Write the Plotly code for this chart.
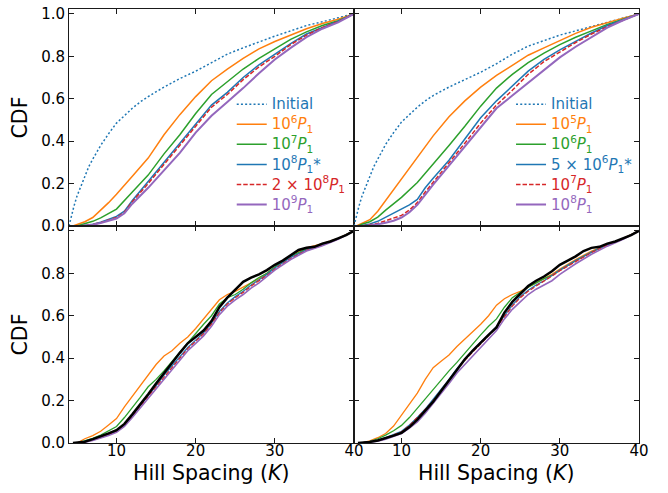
import plotly.graph_objects as go
from plotly.subplots import make_subplots

# ---------------- data ----------------
# Top-left panel
tl_init_x = [4, 4.3, 4.6, 5, 5.5, 6, 6.5, 7, 7.5, 8, 9, 10, 11, 12, 13, 14, 16, 18, 20, 22, 24, 26, 28, 30, 32, 34, 36, 38, 40]
tl_init_y = [0, 0.05, 0.09, 0.14, 0.19, 0.235, 0.28, 0.315, 0.35, 0.38, 0.435, 0.485, 0.52, 0.555, 0.585, 0.61, 0.655, 0.695, 0.73, 0.77, 0.81, 0.84, 0.868, 0.895, 0.92, 0.945, 0.963, 0.98, 1.0]
tl_or_x = [4.5, 6, 7, 8, 9, 10, 11, 12, 14, 16, 18, 20, 22, 24, 26, 28, 30, 32, 34, 36, 38, 40]
tl_or_y = [0, 0.02, 0.04, 0.075, 0.11, 0.15, 0.195, 0.235, 0.32, 0.43, 0.525, 0.61, 0.685, 0.74, 0.79, 0.835, 0.87, 0.9, 0.93, 0.955, 0.975, 1.0]
tl_gr_x = [5, 6, 7, 8, 10, 12, 14, 16, 18, 20, 22, 24, 26, 28, 30, 32, 34, 36, 38, 40]
tl_gr_y = [0, 0.01, 0.022, 0.038, 0.08, 0.16, 0.24, 0.34, 0.43, 0.53, 0.62, 0.68, 0.74, 0.79, 0.835, 0.88, 0.915, 0.945, 0.968, 1.0]
tl_grid_x = [5.5, 7, 8, 9, 10, 11, 12, 14, 16, 18, 20, 22, 24, 26, 28, 30, 32, 34, 36, 38, 40]
tl_bl_y = [0, 0.008, 0.018, 0.03, 0.045, 0.07, 0.12, 0.21, 0.30, 0.385, 0.48, 0.57, 0.63, 0.70, 0.76, 0.81, 0.86, 0.905, 0.935, 0.965, 1.0]
tl_rd_y = [0, 0.007, 0.016, 0.027, 0.04, 0.065, 0.115, 0.2, 0.29, 0.375, 0.47, 0.56, 0.62, 0.69, 0.75, 0.80, 0.855, 0.90, 0.935, 0.963, 1.0]
tl_pu_y = [0, 0.006, 0.014, 0.024, 0.035, 0.06, 0.105, 0.18, 0.26, 0.345, 0.44, 0.52, 0.585, 0.65, 0.72, 0.785, 0.84, 0.89, 0.93, 0.96, 1.0]

# Top-right panel
tr_init_x = [4, 4.3, 4.6, 5, 5.5, 6, 6.5, 7, 7.5, 8, 9, 10, 11, 12, 13, 14, 16, 18, 20, 22, 24, 26, 28, 30, 32, 34, 36, 38, 40]
tr_init_y = [0, 0.05, 0.09, 0.14, 0.19, 0.235, 0.28, 0.315, 0.35, 0.385, 0.44, 0.49, 0.525, 0.56, 0.59, 0.615, 0.655, 0.69, 0.725, 0.765, 0.81, 0.848, 0.875, 0.9, 0.92, 0.94, 0.96, 0.98, 1.0]
tr_or_x = [4.3, 5, 6, 7, 8, 9, 10, 12, 14, 16, 18, 20, 22, 24, 26, 28, 30, 32, 34, 36, 38, 40]
tr_or_y = [0, 0.012, 0.03, 0.07, 0.12, 0.17, 0.22, 0.32, 0.425, 0.515, 0.59, 0.655, 0.71, 0.757, 0.805, 0.84, 0.875, 0.908, 0.937, 0.96, 0.98, 1.0]
tr_gr_x = [4.5, 5, 6, 7, 8, 9, 10, 12, 14, 16, 18, 20, 22, 24, 26, 28, 30, 32, 34, 36, 38, 40]
tr_gr_y = [0, 0.008, 0.02, 0.042, 0.075, 0.105, 0.135, 0.205, 0.29, 0.38, 0.47, 0.565, 0.65, 0.715, 0.77, 0.815, 0.855, 0.89, 0.92, 0.95, 0.975, 1.0]
tr_bl_x = [4.8, 6, 7, 8, 9, 10, 11, 12, 13, 14, 16, 18, 20, 22, 24, 26, 28, 30, 32, 34, 36, 38, 40]
tr_bl_y = [0, 0.01, 0.022, 0.042, 0.06, 0.08, 0.1, 0.125, 0.18, 0.225, 0.31, 0.41, 0.51, 0.59, 0.66, 0.73, 0.785, 0.83, 0.87, 0.91, 0.945, 0.972, 1.0]
tr_rd_x = [5, 6, 7, 8, 9, 10, 11, 12, 13, 14, 16, 18, 20, 22, 24, 26, 28, 30, 32, 34, 36, 38, 40]
tr_rd_y = [0, 0.005, 0.012, 0.025, 0.038, 0.05, 0.075, 0.11, 0.16, 0.205, 0.295, 0.39, 0.485, 0.57, 0.64, 0.715, 0.775, 0.82, 0.865, 0.905, 0.94, 0.97, 1.0]
tr_pu_x = [5.5, 6, 7, 8, 9, 10, 11, 12, 13, 14, 16, 18, 20, 22, 24, 26, 28, 30, 32, 34, 36, 38, 40]
tr_pu_y = [0, 0.002, 0.008, 0.015, 0.025, 0.04, 0.065, 0.1, 0.15, 0.195, 0.285, 0.375, 0.47, 0.555, 0.615, 0.675, 0.735, 0.795, 0.845, 0.89, 0.935, 0.97, 1.0]

# Bottom panels (common x grid for coloured series)
b_x = [5, 6, 7, 8, 9, 10, 11, 12, 13, 14, 15, 16, 17, 18, 19, 20, 21, 22, 23, 24, 25, 26, 27, 28, 29, 30, 32, 34, 36, 38, 40]
bl_or_y = [0, 0.02, 0.035, 0.055, 0.085, 0.115, 0.17, 0.22, 0.27, 0.32, 0.37, 0.41, 0.435, 0.47, 0.5, 0.54, 0.585, 0.635, 0.675, 0.7, 0.715, 0.735, 0.755, 0.775, 0.8, 0.83, 0.885, 0.92, 0.94, 0.965, 1.0]
bl_gr_y = [0, 0.01, 0.022, 0.037, 0.057, 0.078, 0.12, 0.165, 0.215, 0.265, 0.3, 0.34, 0.385, 0.43, 0.475, 0.52, 0.56, 0.6, 0.655, 0.685, 0.7, 0.725, 0.755, 0.78, 0.8, 0.83, 0.88, 0.915, 0.935, 0.963, 1.0]
bl_bl_y = [0, 0.006, 0.015, 0.027, 0.04, 0.055, 0.085, 0.13, 0.175, 0.225, 0.27, 0.32, 0.365, 0.41, 0.45, 0.485, 0.52, 0.565, 0.62, 0.66, 0.69, 0.715, 0.745, 0.77, 0.795, 0.825, 0.875, 0.91, 0.935, 0.963, 1.0]
bl_rd_y = [0, 0.005, 0.014, 0.026, 0.038, 0.053, 0.082, 0.125, 0.17, 0.22, 0.265, 0.315, 0.36, 0.405, 0.445, 0.48, 0.515, 0.56, 0.615, 0.655, 0.685, 0.71, 0.74, 0.765, 0.79, 0.82, 0.87, 0.908, 0.933, 0.962, 1.0]
bl_pu_y = [0, 0.004, 0.012, 0.023, 0.035, 0.05, 0.078, 0.12, 0.165, 0.21, 0.255, 0.305, 0.35, 0.395, 0.435, 0.47, 0.505, 0.55, 0.605, 0.645, 0.675, 0.7, 0.73, 0.755, 0.785, 0.815, 0.865, 0.905, 0.93, 0.96, 1.0]
br_or_y = [0, 0.01, 0.025, 0.045, 0.08, 0.13, 0.185, 0.235, 0.3, 0.355, 0.385, 0.415, 0.455, 0.49, 0.525, 0.56, 0.6, 0.65, 0.68, 0.7, 0.715, 0.735, 0.755, 0.775, 0.795, 0.82, 0.865, 0.905, 0.935, 0.965, 1.0]
br_gr_y = [0, 0.008, 0.02, 0.037, 0.058, 0.083, 0.12, 0.165, 0.21, 0.255, 0.3, 0.34, 0.38, 0.425, 0.465, 0.51, 0.55, 0.585, 0.64, 0.685, 0.71, 0.735, 0.755, 0.775, 0.79, 0.815, 0.86, 0.9, 0.935, 0.963, 1.0]
br_bl_y = [0, 0.006, 0.014, 0.025, 0.04, 0.055, 0.085, 0.12, 0.16, 0.205, 0.255, 0.3, 0.35, 0.395, 0.435, 0.475, 0.51, 0.55, 0.6, 0.65, 0.69, 0.72, 0.745, 0.765, 0.79, 0.815, 0.86, 0.9, 0.935, 0.963, 1.0]
br_rd_y = [0, 0.005, 0.013, 0.024, 0.038, 0.052, 0.082, 0.118, 0.158, 0.2, 0.25, 0.295, 0.345, 0.39, 0.43, 0.47, 0.505, 0.545, 0.595, 0.645, 0.685, 0.715, 0.74, 0.762, 0.787, 0.812, 0.857, 0.898, 0.933, 0.962, 1.0]
br_pu_y = [0, 0.003, 0.009, 0.018, 0.03, 0.045, 0.07, 0.1, 0.14, 0.185, 0.235, 0.28, 0.33, 0.37, 0.41, 0.445, 0.49, 0.53, 0.585, 0.63, 0.665, 0.7, 0.725, 0.745, 0.765, 0.795, 0.845, 0.89, 0.928, 0.96, 1.0]

# Observed (black) curves
obs_x = [4.5, 6, 7, 8, 9, 10, 11, 12, 13, 14, 15, 16, 17, 18, 19, 20, 21, 22, 23, 24, 25, 26, 27, 28, 29, 30, 31, 32, 33, 34, 35, 36, 37, 38, 39, 40]
bl_obs_y = [0, 0.006, 0.018, 0.03, 0.045, 0.06, 0.09, 0.135, 0.18, 0.23, 0.28, 0.33, 0.38, 0.425, 0.47, 0.5, 0.53, 0.575, 0.64, 0.685, 0.725, 0.76, 0.78, 0.795, 0.815, 0.84, 0.86, 0.885, 0.91, 0.92, 0.925, 0.94, 0.95, 0.965, 0.98, 1.0]
br_obs_y = [0, 0.005, 0.012, 0.022, 0.035, 0.048, 0.075, 0.11, 0.15, 0.195, 0.245, 0.295, 0.345, 0.395, 0.435, 0.475, 0.51, 0.545, 0.615, 0.665, 0.705, 0.74, 0.765, 0.785, 0.81, 0.84, 0.86, 0.88, 0.905, 0.92, 0.925, 0.94, 0.95, 0.965, 0.98, 1.0]

left_labels = ["Initial", "10<sup>6</sup><i>P</i><sub>1</sub>", "10<sup>7</sup><i>P</i><sub>1</sub>",
               "10<sup>8</sup><i>P</i><sub>1</sub>*", "2 × 10<sup>8</sup><i>P</i><sub>1</sub>",
               "10<sup>9</sup><i>P</i><sub>1</sub>"]
right_labels = ["Initial", "10<sup>5</sup><i>P</i><sub>1</sub>", "10<sup>6</sup><i>P</i><sub>1</sub>",
                "5 × 10<sup>6</sup><i>P</i><sub>1</sub>*", "10<sup>7</sup><i>P</i><sub>1</sub>",
                "10<sup>8</sup><i>P</i><sub>1</sub>"]
x_title = "Hill Spacing (<i>K</i>)"
y_title = "CDF"
x_ticks = [10, 20, 30, 40]
y_ticks = [0, 0.2, 0.4, 0.6, 0.8, 1.0]

# ---------------- styling ----------------
C_BLUE, C_OR, C_GR, C_RD, C_PU = "#1f77b4", "#ff7f0e", "#2ca02c", "#d62728", "#9467bd"
FONT = "DejaVu Sans"
DOT = "2px,2.2px"
DASH = "4.5px,2px"

fig = make_subplots(rows=2, cols=2, horizontal_spacing=0, vertical_spacing=0)


def col(name, c):
    return f'<span style="color:{c};font-size:15px">{name}</span>'


def add(x, y, row, c, color, width=1.5, dash="solid", name=None, legend=None):
    fig.add_trace(go.Scatter(x=x, y=y, mode="lines",
                             line=dict(color=color, width=width, dash=dash),
                             name=col(name, color) if name else None,
                             showlegend=legend is not None,
                             legend=legend if legend else "legend",
                             hoverinfo="skip"), row=row, col=c)


# top-left
add(tl_init_x, tl_init_y, 1, 1, C_BLUE, 1.5, DOT, left_labels[0], "legend")
add(tl_or_x, tl_or_y, 1, 1, C_OR, 1.5, "solid", left_labels[1], "legend")
add(tl_gr_x, tl_gr_y, 1, 1, C_GR, 1.5, "solid", left_labels[2], "legend")
add(tl_grid_x, tl_bl_y, 1, 1, C_BLUE, 1.5, "solid", left_labels[3], "legend")
add(tl_grid_x, tl_rd_y, 1, 1, C_RD, 1.5, DASH, left_labels[4], "legend")
add(tl_grid_x, tl_pu_y, 1, 1, C_PU, 2, "solid", left_labels[5], "legend")
# top-right
add(tr_init_x, tr_init_y, 1, 2, C_BLUE, 1.5, DOT, right_labels[0], "legend2")
add(tr_or_x, tr_or_y, 1, 2, C_OR, 1.5, "solid", right_labels[1], "legend2")
add(tr_gr_x, tr_gr_y, 1, 2, C_GR, 1.5, "solid", right_labels[2], "legend2")
add(tr_bl_x, tr_bl_y, 1, 2, C_BLUE, 1.5, "solid", right_labels[3], "legend2")
add(tr_rd_x, tr_rd_y, 1, 2, C_RD, 1.5, DASH, right_labels[4], "legend2")
add(tr_pu_x, tr_pu_y, 1, 2, C_PU, 2, "solid", right_labels[5], "legend2")
# bottom-left
add(b_x, bl_or_y, 2, 1, C_OR, 1.3)
add(b_x, bl_gr_y, 2, 1, C_GR, 1.3)
add(b_x, bl_bl_y, 2, 1, C_BLUE, 1.3)
add(b_x, bl_rd_y, 2, 1, C_RD, 1.3, DASH)
add(b_x, bl_pu_y, 2, 1, C_PU, 1.6)
add(obs_x, bl_obs_y, 2, 1, "black", 2.5)
# bottom-right
add(b_x, br_or_y, 2, 2, C_OR, 1.3)
add(b_x, br_gr_y, 2, 2, C_GR, 1.3)
add(b_x, br_bl_y, 2, 2, C_BLUE, 1.3)
add(b_x, br_rd_y, 2, 2, C_RD, 1.3, DASH)
add(b_x, br_pu_y, 2, 2, C_PU, 1.6)
add(obs_x, br_obs_y, 2, 2, "black", 2.5)

axis_common = dict(showline=True, linecolor="#1a1a1a", linewidth=1, mirror="ticks",
                   ticks="inside", ticklen=5, tickwidth=1.2, tickcolor="#1a1a1a",
                   showgrid=False, zeroline=False,
                   tickfont=dict(family=FONT, size=15, color="black"))

for r in (1, 2):
    for c in (1, 2):
        fig.update_xaxes(range=[4, 40], tickvals=x_ticks, ticklabelstandoff=-6,
                         showticklabels=(r == 2), row=r, col=c, **axis_common)
        fig.update_yaxes(range=[0, 1.023], tickvals=y_ticks,
                         showticklabels=(c == 1), row=r, col=c, **axis_common)

fig.update_yaxes(ticktext=["0.0", "0.2", "0.4", "0.6", "0.8", "1.0"], row=1, col=1)
fig.update_yaxes(ticktext=["0.0", "0.2", "0.4", "0.6", "0.8", ""], row=2, col=1)
for r in (1, 2):
    fig.update_yaxes(title=dict(text=y_title, font=dict(family=FONT, size=20.5, color="black"), standoff=7),
                     row=r, col=1)

# x-axis titles placed just under each bottom panel
for xc in (0.25, 0.75):
    fig.add_annotation(text=x_title, xref="paper", yref="paper", x=xc, y=-30 / 438,
                       xanchor="center", yanchor="middle", showarrow=False,
                       font=dict(family=FONT, size=20.5, color="black"))

legend_common = dict(bgcolor="rgba(0,0,0,0)", borderwidth=0, font=dict(family=FONT, size=13.1),
                     xanchor="left", yanchor="top", tracegroupgap=0, itemwidth=30)
fig.update_layout(
    width=668, height=493,
    margin=dict(l=69, r=29, t=5, b=50),
    plot_bgcolor="white", paper_bgcolor="white",
    font=dict(family=FONT, size=15, color="black"),
    legend=dict(x=0.2855, y=0.815, **legend_common),
    legend2=dict(x=0.7755, y=0.815, **legend_common),
)

fig.write_html("out.html")
